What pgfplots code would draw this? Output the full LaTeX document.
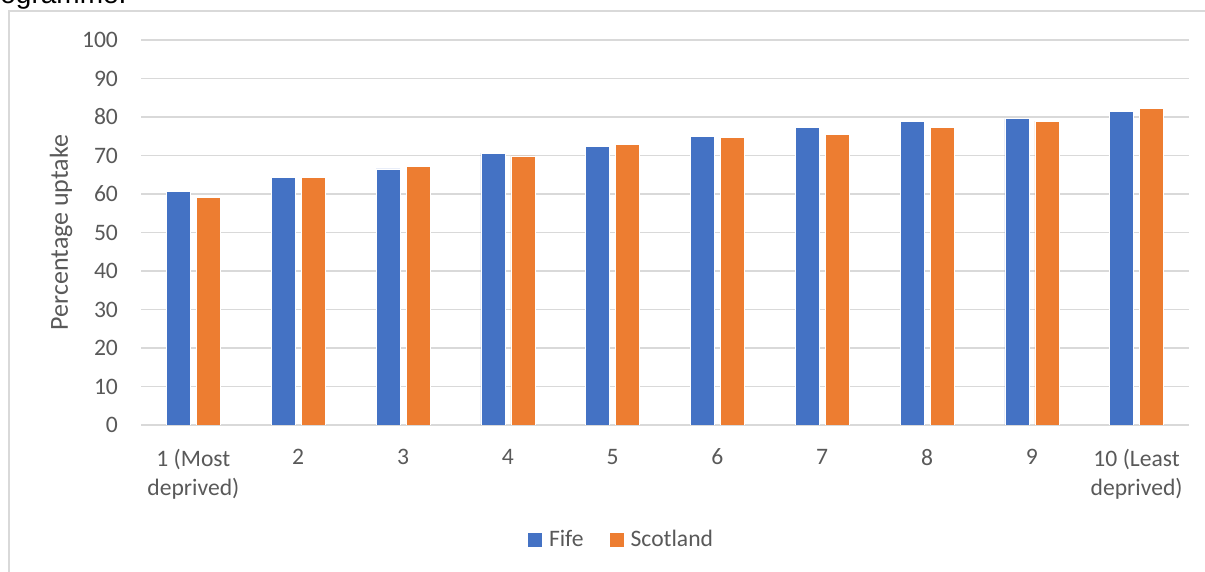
\documentclass[border=0pt]{standalone}
\usepackage{pgfplots}
\pgfplotsset{compat=1.18}
\usepackage{fontspec}
\setmainfont{Carlito}
\newfontfamily\bodyfont{Liberation Sans}
\definecolor{fife}{HTML}{4472C4}
\definecolor{scot}{HTML}{ED7D31}
\definecolor{gridgray}{HTML}{D9D9D9}
\definecolor{txt}{HTML}{595959}

\begin{document}
\begin{tikzpicture}[x=1pt,y=1pt]
\path[use as bounding box] (0,0) rectangle (602.5,286);
\clip (0,0) rectangle (602.5,286);
% tail of the preceding paragraph and the chart frame
\node[anchor=base west, inner sep=0, font=\bodyfont\fontsize{14}{16}\selectfont] at (0,284) {ogramme.};
\draw[gridgray, line width=0.8pt] (4.5,-5) -- (4.5,280.5) -- (610,280.5);

\begin{axis}[
  at={(70.5pt,73.5pt)}, anchor=south west,
  scale only axis, width=524pt, height=192.5pt,
  ybar=3pt, bar width=12pt,
  xmin=-0.5, xmax=9.5, ymin=0, ymax=100,
  ytick={0,10,...,100},
  xtick={0,...,9},
  xticklabels={{1 (Most\\deprived)},2,3,4,5,6,7,8,9,{10 (Least\\deprived)}},
  /pgf/number format/assume math mode=true,
  tick label style={font=\fontsize{11.8}{14.8}\selectfont, text=txt},
  xticklabel style={align=center, yshift=-8.5pt},
  yticklabel style={xshift=-8pt},
  axis line style={draw=none},
  major tick length=0pt,
  ymajorgrids, grid style={gridgray, line width=0.7pt},
  ylabel={Percentage uptake},
  ylabel style={at={(axis description cs:-0.0763,0.5)}, anchor=center,
    font=\fontsize{13}{15}\selectfont, text=txt},
  legend style={at={(axis description cs:0.4595,-0.2987)}, anchor=center,
    draw=none, fill=none, legend columns=2,
    font=\fontsize{11.8}{14}\selectfont, text=txt,
    /tikz/every odd column/.append style={column sep=1.5pt},
    /tikz/every even column/.append style={column sep=11pt}},
  legend image code/.code={\path[#1, draw=none] (0pt,-3.5pt) rectangle (7pt,3.5pt);},
]
\addplot[fill=fife, draw=white, line width=0.3pt] coordinates {
  (0,60.6) (1,64.3) (2,66.5) (3,70.6) (4,72.3)
  (5,74.9) (6,77.2) (7,78.9) (8,79.6) (9,81.4)};
\addplot[fill=scot, draw=white, line width=0.3pt] coordinates {
  (0,59.2) (1,64.3) (2,67.2) (3,69.9) (4,72.9)
  (5,74.6) (6,75.5) (7,77.2) (8,78.9) (9,82.3)};
\legend{Fife, Scotland}
\end{axis}
\end{tikzpicture}
\end{document}
